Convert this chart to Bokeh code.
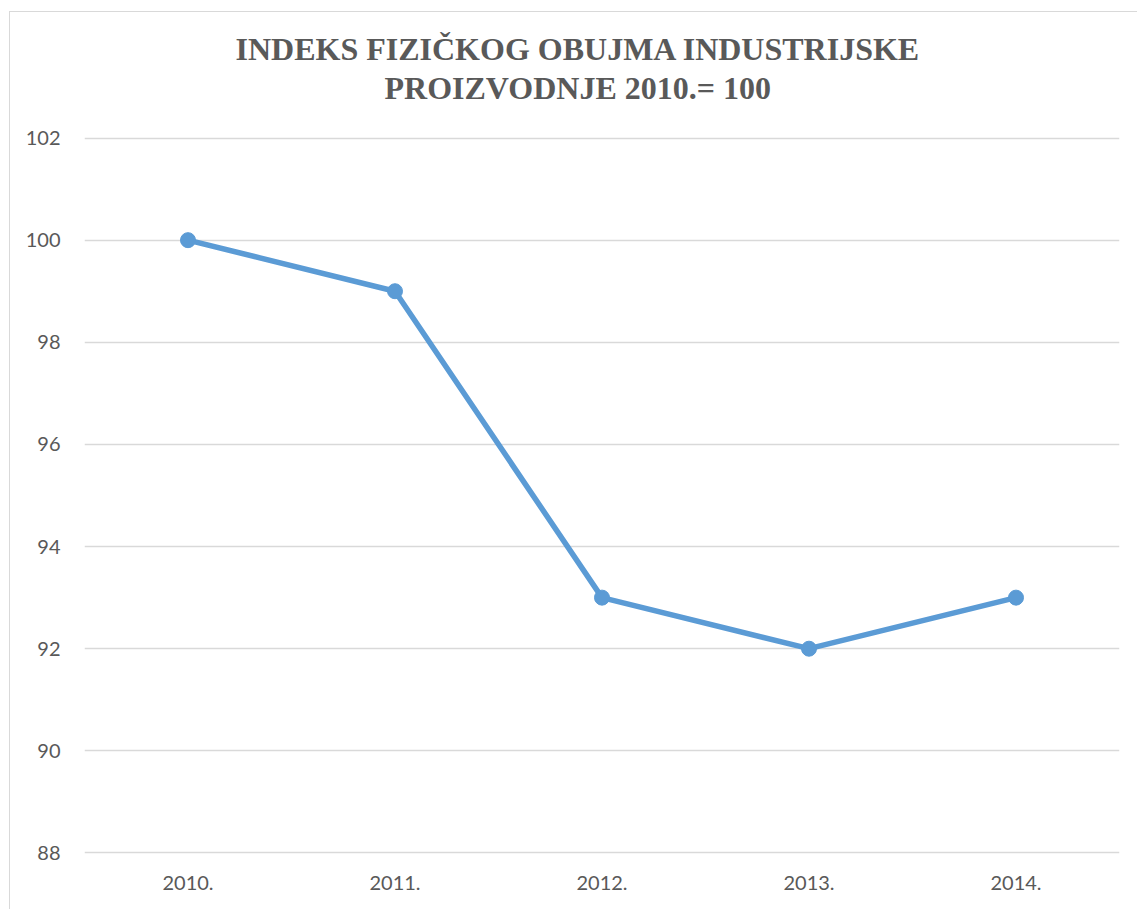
from bokeh.plotting import figure
from bokeh.models import Title, FixedTicker
from bokeh.embed import file_html
from bokeh.resources import INLINE

years = ["2010.", "2011.", "2012.", "2013.", "2014."]
index_values = [100, 99, 93, 92, 93]
y_ticks = [88, 90, 92, 94, 96, 98, 100, 102]
title_lines = ["INDEKS FIZIČKOG OBUJMA INDUSTRIJSKE", "PROIZVODNJE 2010.= 100"]

p = figure(x_range=years, y_range=(87.97, 102.03), width=1128, height=898,
           output_backend="svg", toolbar_location=None,
           min_border_left=74, min_border_right=19, min_border_top=124, min_border_bottom=56)
p.margin = (11, 0, 0, 9)
p.outline_line_color = None
p.background_fill_color = "white"
p.border_fill_color = "white"

p.line(years, index_values, line_color="#5B9BD5", line_width=5.5)
p.scatter(years, index_values, size=15, fill_color="#5B9BD5", line_color="#5B9BD5")

p.xgrid.grid_line_color = None
p.ygrid.grid_line_color = "#d9d9d9"
p.ygrid.grid_line_width = 1.5
p.yaxis.ticker = FixedTicker(ticks=y_ticks)

for ax in (p.xaxis, p.yaxis):
    ax.axis_line_color = None
    ax.major_tick_line_color = None
    ax.minor_tick_line_color = None
    ax.major_label_text_font = "Lato"
    ax.major_label_text_font_size = "20px"
    ax.major_label_text_color = "#595959"
p.yaxis.major_label_standoff = 18
p.xaxis.major_label_standoff = 15

# second line first (closest to the frame), then the first line above it
for t, off, st in [(title_lines[1], 300, 61), (title_lines[0], 151, -58)]:
    p.add_layout(Title(text=t, align="left", offset=off, standoff=st,
                       text_font="Liberation Serif", text_font_style="bold",
                       text_font_size="32px", text_color="#595959",
                       text_line_height=1.0), "above")

p.styles = {"border-left": "1px solid #d9d9d9", "border-top": "1px solid #d9d9d9"}

open("out.html", "w").write(file_html(p, INLINE))
